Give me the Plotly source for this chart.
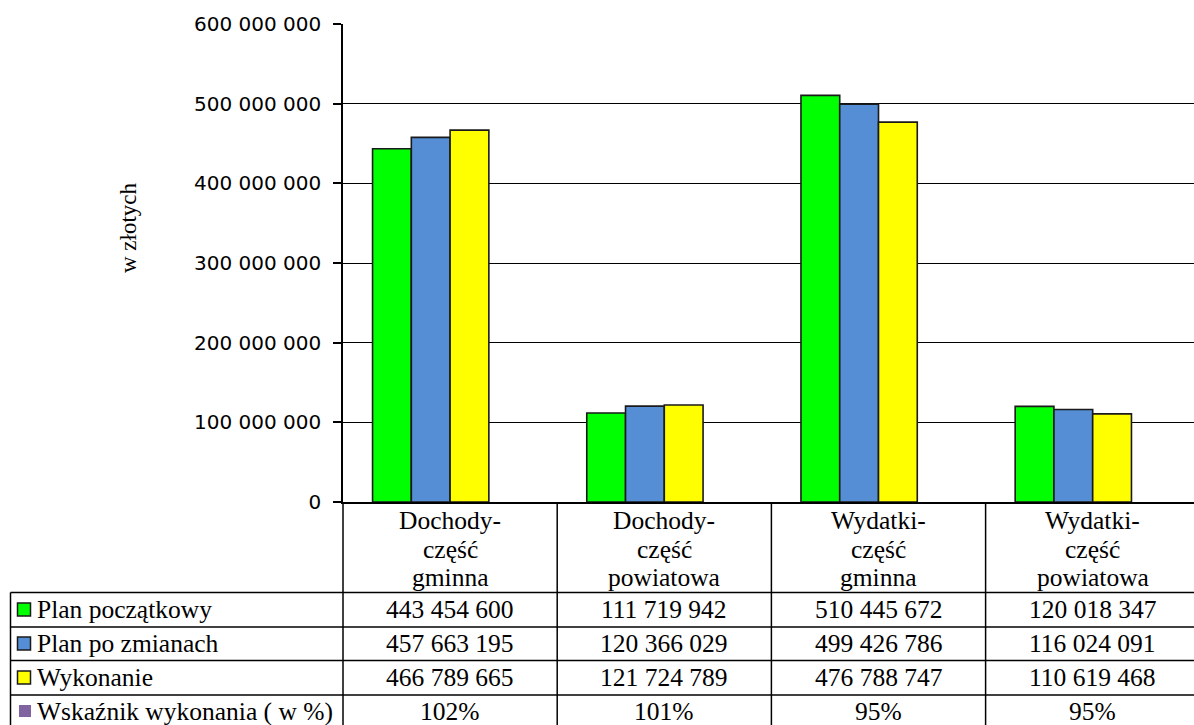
import plotly.graph_objects as go

# ---------------- data ----------------
categories = ["Dochody-\nczęść\ngminna", "Dochody-\nczęść\npowiatowa",
              "Wydatki-\nczęść\ngminna", "Wydatki-\nczęść\npowiatowa"]
series_names = ["Plan początkowy", "Plan po zmianach", "Wykonanie",
                "Wskaźnik wykonania ( w %)"]
plan_poczatkowy = [443454600, 111719942, 510445672, 120018347]
plan_po_zmianach = [457663195, 120366029, 499426786, 116024091]
wykonanie = [466789665, 121724789, 476788747, 110619468]
wskaznik_pct = [102, 101, 95, 95]
y_tick_vals = [0, 100000000, 200000000, 300000000, 400000000, 500000000, 600000000]
y_tick_text = ["0", "100 000 000", "200 000 000", "300 000 000",
               "400 000 000", "500 000 000", "600 000 000"]
y_title = "w złotych"

# ---------------- styling / geometry ----------------
W, H = 1194, 725
L, T, BOT = 343, 24, 502
PW, PH = W - L, BOT - T
colors = ["#00FF00", "#558ED5", "#FFFF00", "#8064A2"]
serif = "Liberation Serif"
sans = "DejaVu Sans"
FS = 25.5


def py(p):
    return (BOT - p) / PH


def px(p):
    return (p - L) / PW


series_values = [plan_poczatkowy, plan_po_zmianach, wykonanie,
                 [v / 100 for v in wskaznik_pct]]

fig = go.Figure()
for name, vals, col in zip(series_names, series_values, colors):
    fig.add_trace(go.Bar(
        x=categories, y=vals, name=name,
        marker=dict(color=col, line=dict(color="#1a1a1a", width=1.6 if col != colors[3] else 0)),
    ))

n_cat = len(categories)
cat_w = 214.2
x_end = -0.5 + PW / cat_w

shapes = []
line = dict(color="black", width=1.5)
# horizontal table lines
for yy in [592.5, 627, 660.5, 695]:
    shapes.append(dict(type="line", xref="paper", yref="paper",
                       x0=px(10.5), x1=1.0, y0=py(yy), y1=py(yy), line=line))
# left border of table
shapes.append(dict(type="line", xref="paper", yref="paper",
                   x0=px(10.5), x1=px(10.5), y0=py(592.5), y1=py(740), line=line))
# continuation of y axis into table
shapes.append(dict(type="line", xref="paper", yref="paper",
                   x0=0, x1=0, y0=0, y1=py(740), line=line))
# category dividers
for i in range(n_cat - 1):
    shapes.append(dict(type="line", xref="x", yref="paper",
                       x0=i + 0.5, x1=i + 0.5, y0=0, y1=py(740), line=line))

annotations = []
# y-axis title
annotations.append(dict(text=y_title, xref="paper", yref="paper",
                        x=px(128), y=py(228), textangle=-90, showarrow=False,
                        font=dict(family=serif, size=23, color="black"),
                        xanchor="center", yanchor="middle"))
# category header
header_lines_y = [520, 549, 577]
for i, cat in enumerate(categories):
    for ln, yy in zip(cat.split("\n"), header_lines_y):
        annotations.append(dict(text=ln, xref="x", yref="paper", x=i, y=py(yy),
                                showarrow=False, xanchor="center", yanchor="middle",
                                font=dict(family=serif, size=FS, color="black")))

row_centers = [609.5, 643.5, 677.5, 711]
row_values = [plan_poczatkowy, plan_po_zmianach, wykonanie]
for r, vals in enumerate(row_values):
    for i, v in enumerate(vals):
        annotations.append(dict(text=f"{v:,}".replace(",", " "), xref="x", yref="paper",
                                x=i, y=py(row_centers[r]), showarrow=False,
                                xanchor="center", yanchor="middle",
                                font=dict(family=serif, size=FS, color="black")))
for i, p in enumerate(wskaznik_pct):
    annotations.append(dict(text=f"{p}%", xref="x", yref="paper",
                            x=i, y=py(row_centers[3]), showarrow=False,
                            xanchor="center", yanchor="middle",
                            font=dict(family=serif, size=FS, color="black")))

# legend keys + names
for r, (name, col) in enumerate(zip(series_names, colors)):
    cy = row_centers[r]
    if r < 3:
        shapes.append(dict(type="rect", xref="paper", yref="paper",
                           x0=px(17.5), x1=px(30.5), y0=py(cy + 6.5), y1=py(cy - 6.5),
                           fillcolor=col, line=dict(color="#1a1a1a", width=1.5)))
    else:
        shapes.append(dict(type="rect", xref="paper", yref="paper",
                           x0=px(19), x1=px(31), y0=py(cy + 6), y1=py(cy - 6),
                           fillcolor=col, line=dict(width=0)))
    annotations.append(dict(text=name, xref="paper", yref="paper",
                            x=px(35), y=py(cy), showarrow=False,
                            xanchor="left", yanchor="middle",
                            font=dict(family=serif, size=FS, color="black")))

fig.update_layout(
    width=W, height=H,
    margin=dict(l=L, r=0, t=T, b=H - BOT, pad=0),
    paper_bgcolor="white", plot_bgcolor="white",
    showlegend=False,
    barmode="group", bargap=0.276, bargroupgap=0,
    shapes=shapes, annotations=annotations,
    xaxis=dict(range=[-0.5, x_end], showticklabels=False, ticks="",
               showline=True, linecolor="black", linewidth=1.5,
               showgrid=False, zeroline=False, automargin=False, fixedrange=True),
    yaxis=dict(range=[0, 600000000], tickvals=y_tick_vals, ticktext=y_tick_text,
               ticks="outside", ticklen=8, tickwidth=1.5, tickcolor="black",
               ticklabelstandoff=8,
               tickfont=dict(family=sans, size=20, color="black"),
               showline=True, linecolor="black", linewidth=1.5,
               showgrid=True, gridcolor="black", gridwidth=1.3,
               zeroline=False, automargin=False, fixedrange=True),
)

fig.write_html("out.html", config={"displayModeBar": False},
               post_script="document.body.style.margin='0';document.body.style.overflow='hidden';")
